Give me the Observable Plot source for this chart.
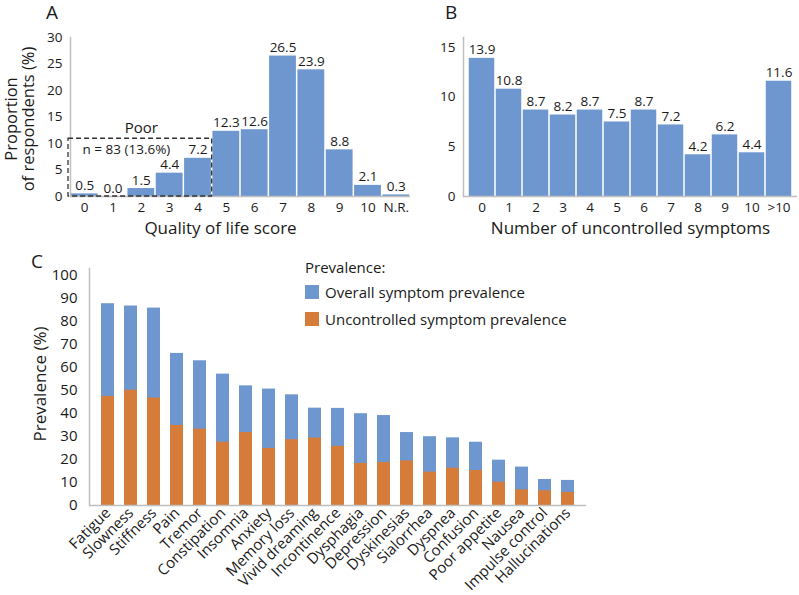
<!DOCTYPE html>
<html>
<head>
<meta charset="utf-8">
<script src="https://cdn.jsdelivr.net/npm/d3@7"></script>
<script src="https://cdn.jsdelivr.net/npm/@observablehq/plot@0.6"></script>
<style>
  body { margin: 0; background: #fff; font-family: "Open Sans", sans-serif; color: #1a1a1a; }
  #wrap { position: relative; width: 799px; height: 595px; overflow: hidden; background: #fff; }
  .panel { position: absolute; }
  .letter { position: absolute; font-size: 19px; line-height: 1.1; color: #1a1a1a; }
  #legend { position: absolute; left: 305px; top: 256px; font-size: 15px; color: #1a1a1a; }
  #legend .ttl { height: 22px; line-height: 22px; }
  #legend .item { display: flex; align-items: center; height: 27px; }
  #legend .sw { width: 14px; height: 14px; margin-right: 6px; }
</style>
</head>
<body>
<div id="wrap"></div>
<script>
// ---------- data ----------
const qolScores = ["0","1","2","3","4","5","6","7","8","9","10","N.R."];
const qolPct = [0.5, 0.0, 1.5, 4.4, 7.2, 12.3, 12.6, 26.5, 23.9, 8.8, 2.1, 0.3];
const qolTicks = [0, 5, 10, 15, 20, 25, 30];
const poorScores = [0, 4];
const poorTop = 10.9;
const poorLabel = "Poor";
const poorNote = "n = 83 (13.6%)";

const uncCounts = ["0","1","2","3","4","5","6","7","8","9","10",">10"];
const uncPct = [13.9, 10.8, 8.7, 8.2, 8.7, 7.5, 8.7, 7.2, 4.2, 6.2, 4.4, 11.6];
const uncTicks = [0, 5, 10, 15];

const symptoms = ["Fatigue","Slowness","Stiffness","Pain","Tremor","Constipation","Insomnia","Anxiety","Memory loss","Vivid dreaming","Incontinence","Dysphagia","Depression","Dyskinesias","Sialorrhea","Dyspnea","Confusion","Poor appetite","Nausea","Impulse control","Hallucinations"];
const overallPrev = [87.7, 86.7, 85.8, 66.1, 62.9, 57.1, 52.0, 50.6, 48.1, 42.3, 42.2, 39.9, 39.1, 31.7, 29.9, 29.4, 27.5, 19.7, 16.7, 11.3, 10.9];
const uncontrolledPrev = [47.4, 50.1, 46.7, 34.8, 33.2, 27.5, 31.7, 24.8, 28.6, 29.3, 25.7, 18.3, 18.7, 19.4, 14.5, 16.2, 15.2, 10.1, 6.8, 6.4, 5.7];
const prevTicks = [0, 10, 20, 30, 40, 50, 60, 70, 80, 90, 100];

const seriesNames = ["Overall symptom prevalence", "Uncontrolled symptom prevalence"];
const seriesColors = ["#6f97cf", "#d57c3a"];
const legendTitle = "Prevalence:";

const titleA = "Quality of life score";
const ytitleA = "Proportion\nof respondents (%)";
const titleB = "Number of uncontrolled symptoms";
const ytitleC = "Prevalence (%)";

const axisColor = "#bfbfbf";
const textColor = "#1a1a1a";
const font = '"Open Sans", sans-serif';

const wrap = document.getElementById("wrap");
function place(el, left, top) {
  el.classList.add("panel");
  el.style.left = left + "px";
  el.style.top = top + "px";
  wrap.appendChild(el);
}

// ---------- Panel A ----------
const idxA = qolScores.map((_, i) => i);
const plotA = Plot.plot({
  width: 420, height: 240,
  marginLeft: 70, marginRight: 10, marginTop: 37, marginBottom: 44,
  style: { fontFamily: font, fontSize: "13px", color: textColor, background: "transparent", overflow: "visible" },
  x: { domain: [-0.5, qolScores.length - 0.5], axis: null },
  y: { domain: [0, 30], axis: null },
  marks: [
    Plot.rectY(idxA, { x1: i => i - 0.5, x2: i => i + 0.5, y: i => qolPct[i], fill: seriesColors[0], insetLeft: 0.75, insetRight: 0.75 }),
    Plot.ruleY([0], { stroke: axisColor, strokeWidth: 1.5 }),
    Plot.frame({ anchor: "left", stroke: axisColor, strokeWidth: 1.5 }),
    Plot.rect([poorTop], { x1: poorScores[0] - 0.5, x2: poorScores[1] + 0.5, y1: 0, y2: d => d, fill: "none", stroke: "#333", strokeWidth: 1.3, strokeDasharray: "5,3", insetLeft: -2 }),
    Plot.text([poorTop], { x: (poorScores[0] + poorScores[1]) / 2, y: d => d, text: () => poorLabel, lineAnchor: "bottom", dy: -6, fontSize: 15, fill: textColor }),
    Plot.text([poorTop], { x: poorScores[0] - 0.5, y: d => d, text: () => poorNote, textAnchor: "start", lineAnchor: "middle", dx: 12, dy: 11, fontSize: 13.5, fill: textColor }),
    Plot.text(idxA, { x: i => i, y: i => qolPct[i], text: i => qolPct[i].toFixed(1), lineAnchor: "bottom", dy: -4, fontSize: 13.5, fill: textColor }),
    Plot.axisX(idxA, { tickSize: 0, tickPadding: 6, tickFormat: i => qolScores[i], fontSize: 13.5, fill: textColor, label: null }),
    Plot.axisY(qolTicks, { tickSize: 0, tickPadding: 8, fontSize: 13.5, fill: textColor, label: null }),
    Plot.text([titleA], { frameAnchor: "bottom", text: d => d, textAnchor: "middle", lineAnchor: "bottom", dx: -20, dy: 37, fontSize: 17, fill: textColor }),
    Plot.text([ytitleA], { frameAnchor: "left", text: d => d, rotate: -90, textAnchor: "middle", lineAnchor: "top", dx: -65, dy: 2, fontSize: 16.5, lineHeight: 1.0, fill: textColor })
  ]
});
place(plotA, 0, 0);

// ---------- Panel B ----------
const plotB = Plot.plot({
  width: 399, height: 240,
  marginLeft: 63, marginRight: 2, marginTop: 37, marginBottom: 44,
  style: { fontFamily: font, fontSize: "13px", color: textColor, background: "transparent", overflow: "visible" },
  x: { domain: uncCounts, padding: 0, axis: null },
  y: { domain: [0, 16], axis: null },
  marks: [
    Plot.barY(uncCounts, { x: d => d, y: (d, i) => uncPct[i], fill: seriesColors[0], insetLeft: 0.75, insetRight: 0.75 }),
    Plot.ruleY([0], { stroke: axisColor, strokeWidth: 1.5 }),
    Plot.frame({ anchor: "left", stroke: axisColor, strokeWidth: 1.5 }),
    Plot.text(uncCounts, { x: d => d, y: (d, i) => uncPct[i], text: (d, i) => uncPct[i].toFixed(1), lineAnchor: "bottom", dy: -4, fontSize: 13.5, fill: textColor }),
    Plot.axisX({ tickSize: 0, tickPadding: 6, fontSize: 13.5, fill: textColor, label: null }),
    Plot.axisY(uncTicks, { tickSize: 0, tickPadding: 8, fontSize: 13.5, fill: textColor, label: null }),
    Plot.text([titleB], { frameAnchor: "bottom", text: d => d, textAnchor: "middle", lineAnchor: "bottom", dy: 37, fontSize: 17, fill: textColor })
  ]
});
place(plotB, 400, 0);

// ---------- Panel C ----------
const plotC = Plot.plot({
  width: 799, height: 355,
  marginLeft: 89, marginRight: 213, marginTop: 28, marginBottom: 90,
  style: { fontFamily: font, fontSize: "14px", color: textColor, background: "transparent", overflow: "visible" },
  x: { domain: symptoms, paddingInner: 0.44, paddingOuter: 0.22, axis: null },
  y: { domain: [0, 103], axis: null },
  marks: [
    Plot.barY(symptoms, { x: d => d, y: (d, i) => overallPrev[i], fill: seriesColors[0] }),
    Plot.barY(symptoms, { x: d => d, y: (d, i) => uncontrolledPrev[i], fill: seriesColors[1] }),
    Plot.ruleY([0], { stroke: axisColor, strokeWidth: 1.5 }),
    Plot.frame({ anchor: "left", stroke: axisColor, strokeWidth: 1.5 }),
    Plot.axisX({ tickSize: 0, tickPadding: 5, tickRotate: -45, fontSize: 15, fill: textColor, label: null }),
    Plot.axisY(prevTicks, { tickSize: 0, tickPadding: 12, fontSize: 15, fill: textColor, label: null }),
    Plot.text([ytitleC], { frameAnchor: "left", text: d => d, rotate: -90, textAnchor: "middle", lineAnchor: "top", dx: -56, dy: -3, fontSize: 17, fill: textColor })
  ]
});
place(plotC, 0, 240);

// ---------- Legend for C ----------
const legend = document.createElement("div");
legend.id = "legend";
const lt = document.createElement("div");
lt.className = "ttl";
lt.textContent = legendTitle;
legend.appendChild(lt);
seriesNames.forEach((name, i) => {
  const it = document.createElement("div");
  it.className = "item";
  const sw = document.createElement("div");
  sw.className = "sw";
  sw.style.background = seriesColors[i];
  const tx = document.createElement("span");
  tx.textContent = name;
  it.appendChild(sw);
  it.appendChild(tx);
  legend.appendChild(it);
});
wrap.appendChild(legend);

// ---------- Panel letters ----------
[["A", 46, 2], ["B", 445, 2], ["C", 31, 251]].forEach(([t, x, y]) => {
  const d = document.createElement("div");
  d.className = "letter";
  d.textContent = t;
  d.style.left = x + "px";
  d.style.top = y + "px";
  wrap.appendChild(d);
});
</script>
</body>
</html>
